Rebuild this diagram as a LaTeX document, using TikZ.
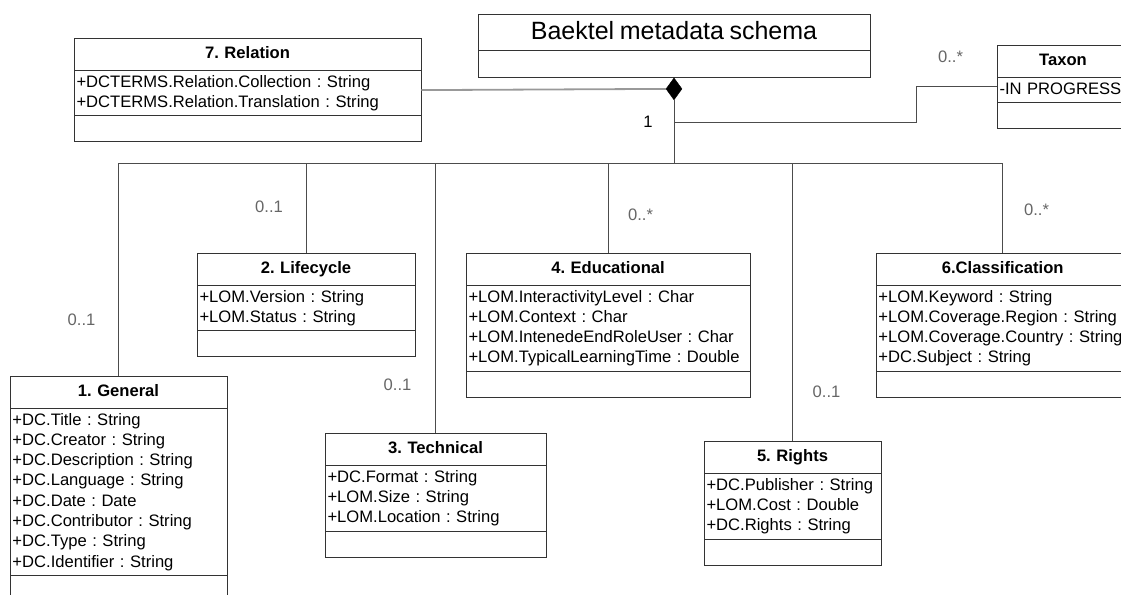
\documentclass[tikz,border=0pt]{standalone}
\usepackage{fontspec}
\setmainfont{Liberation Sans}
\usetikzlibrary{shapes.multipart}
\usetikzlibrary{shapes.geometric}
\usetikzlibrary{positioning}
\setlength{\parindent}{0pt}
\frenchspacing

\newcommand{\attrfont}{\fontsize{16.6}{20.3}\selectfont}
\newcommand{\ctitle}[1]{\rule[-9pt]{0pt}{27pt}\makebox[\hsize][c]{\bfseries #1}}
\newcommand{\cempty}{\rule{0pt}{21pt}}

\begin{document}
\begin{tikzpicture}[x=1pt,y=1pt,
  umlclass/.style={draw=black!80, line width=.9pt, rectangle split, rectangle split parts=3,
    anchor=north, inner xsep=2.5pt, inner ysep=2pt, align=left, font=\attrfont},
  mult/.style={text=black!60, font=\attrfont, inner sep=0pt},
  link/.style={draw=black!70, line width=1pt},
  rellink/.style={draw=black!40, line width=1.8pt}]

\useasboundingbox (0,0) rectangle (1121,-594);
\clip (0,0) rectangle (1121,-594);

% schema and its parts
\node[umlclass, rectangle split parts=2, text width=387pt] (schema) at (674,-14)
  {\fontsize{25}{30}\selectfont\rule[-8pt]{0pt}{31pt}\makebox[\hsize][c]{Baektel metadata schema}\nodepart{two}\rule{0pt}{22pt}};
\node[diamond, fill=black, draw=black, minimum width=16pt, minimum height=22pt, inner sep=0pt, anchor=north] (comp) at (schema.south) {};

\node[umlclass, text width=342pt] (relation) at (247.5,-38)
  {\ctitle{7. Relation}\nodepart{two}\strut+DCTERMS.Relation.Collection : String\\\strut+DCTERMS.Relation.Translation : String\nodepart{three}\cempty};

\node[umlclass, text width=127pt] (taxon) at (1063,-45)
  {\ctitle{Taxon}\nodepart{two}\strut-IN PROGRESS\nodepart{three}\cempty};

\node[umlclass, text width=213pt] (lifecycle) at (306,-253)
  {\ctitle{2. Lifecycle}\nodepart{two}\strut+LOM.Version : String\\\strut+LOM.Status : String\nodepart{three}\cempty};

\node[umlclass, text width=279pt] (educational) at (608,-253)
  {\ctitle{4. Educational}\nodepart{two}\strut+LOM.InteractivityLevel : Char\\\strut+LOM.Context : Char\\\strut+LOM.IntenedeEndRoleUser : Char\\\strut+LOM.TypicalLearningTime : Double\nodepart{three}\cempty};

\node[umlclass, text width=248.5pt] (classification) at (1002.7,-253)
  {\ctitle{6.Classification}\nodepart{two}\strut+LOM.Keyword : String\\\strut+LOM.Coverage.Region : String\\\strut+LOM.Coverage.Country : String\\\strut+DC.Subject : String\nodepart{three}\cempty};

\node[umlclass, text width=212pt] (general) at (118.5,-376)
  {\ctitle{1. General}\nodepart{two}\strut+DC.Title : String\\\strut+DC.Creator : String\\\strut+DC.Description : String\\\strut+DC.Language : String\\\strut+DC.Date : Date\\\strut+DC.Contributor : String\\\strut+DC.Type : String\\\strut+DC.Identifier : String\nodepart{three}\cempty};

\node[umlclass, text width=216pt] (technical) at (435.5,-433)
  {\ctitle{3. Technical}\nodepart{two}\strut+DC.Format : String\\\strut+LOM.Size : String\\\strut+LOM.Location : String\nodepart{three}\cempty};

\node[umlclass, text width=172pt] (rights) at (792.5,-441)
  {\ctitle{5. Rights}\nodepart{two}\strut+DC.Publisher : String\\\strut+LOM.Cost : Double\\\strut+DC.Rights : String\nodepart{three}\cempty};

% connectors
\coordinate (bus) at (675,-163);
\coordinate (jog) at (916,-122);
\draw[rellink] (relation.east) -- (comp.west);
\draw[link] (comp.south) -- (comp.south |- bus);
\draw[link] (comp.south |- jog) -- (jog) |- (taxon.west);
\draw[link] (general.north) -- (general.north |- bus) -- (classification.north |- bus) -- (classification.north);
\foreach \c in {lifecycle,technical,educational,rights}
  \draw[link] (\c.north) -- (\c.north |- bus);

% multiplicities
\node[mult] (mgeneral) at (81.5,-320) {0..1};
\node[mult] (mlifecycle) at (269,-207) {0..1};
\node[mult] (mtechnical) at (397.5,-385) {0..1};
\node[mult] (meducational) at (640.5,-215) {0..*};
\node[mult] (mrights) at (826.5,-392) {0..1};
\node[mult] (mclassification) at (1036.5,-210) {0..*};
\node[mult] (mtaxon) at (950.5,-57) {0..*};
\node[mult, text=black] (mschema) at (648,-122) {1};
\end{tikzpicture}
\end{document}
